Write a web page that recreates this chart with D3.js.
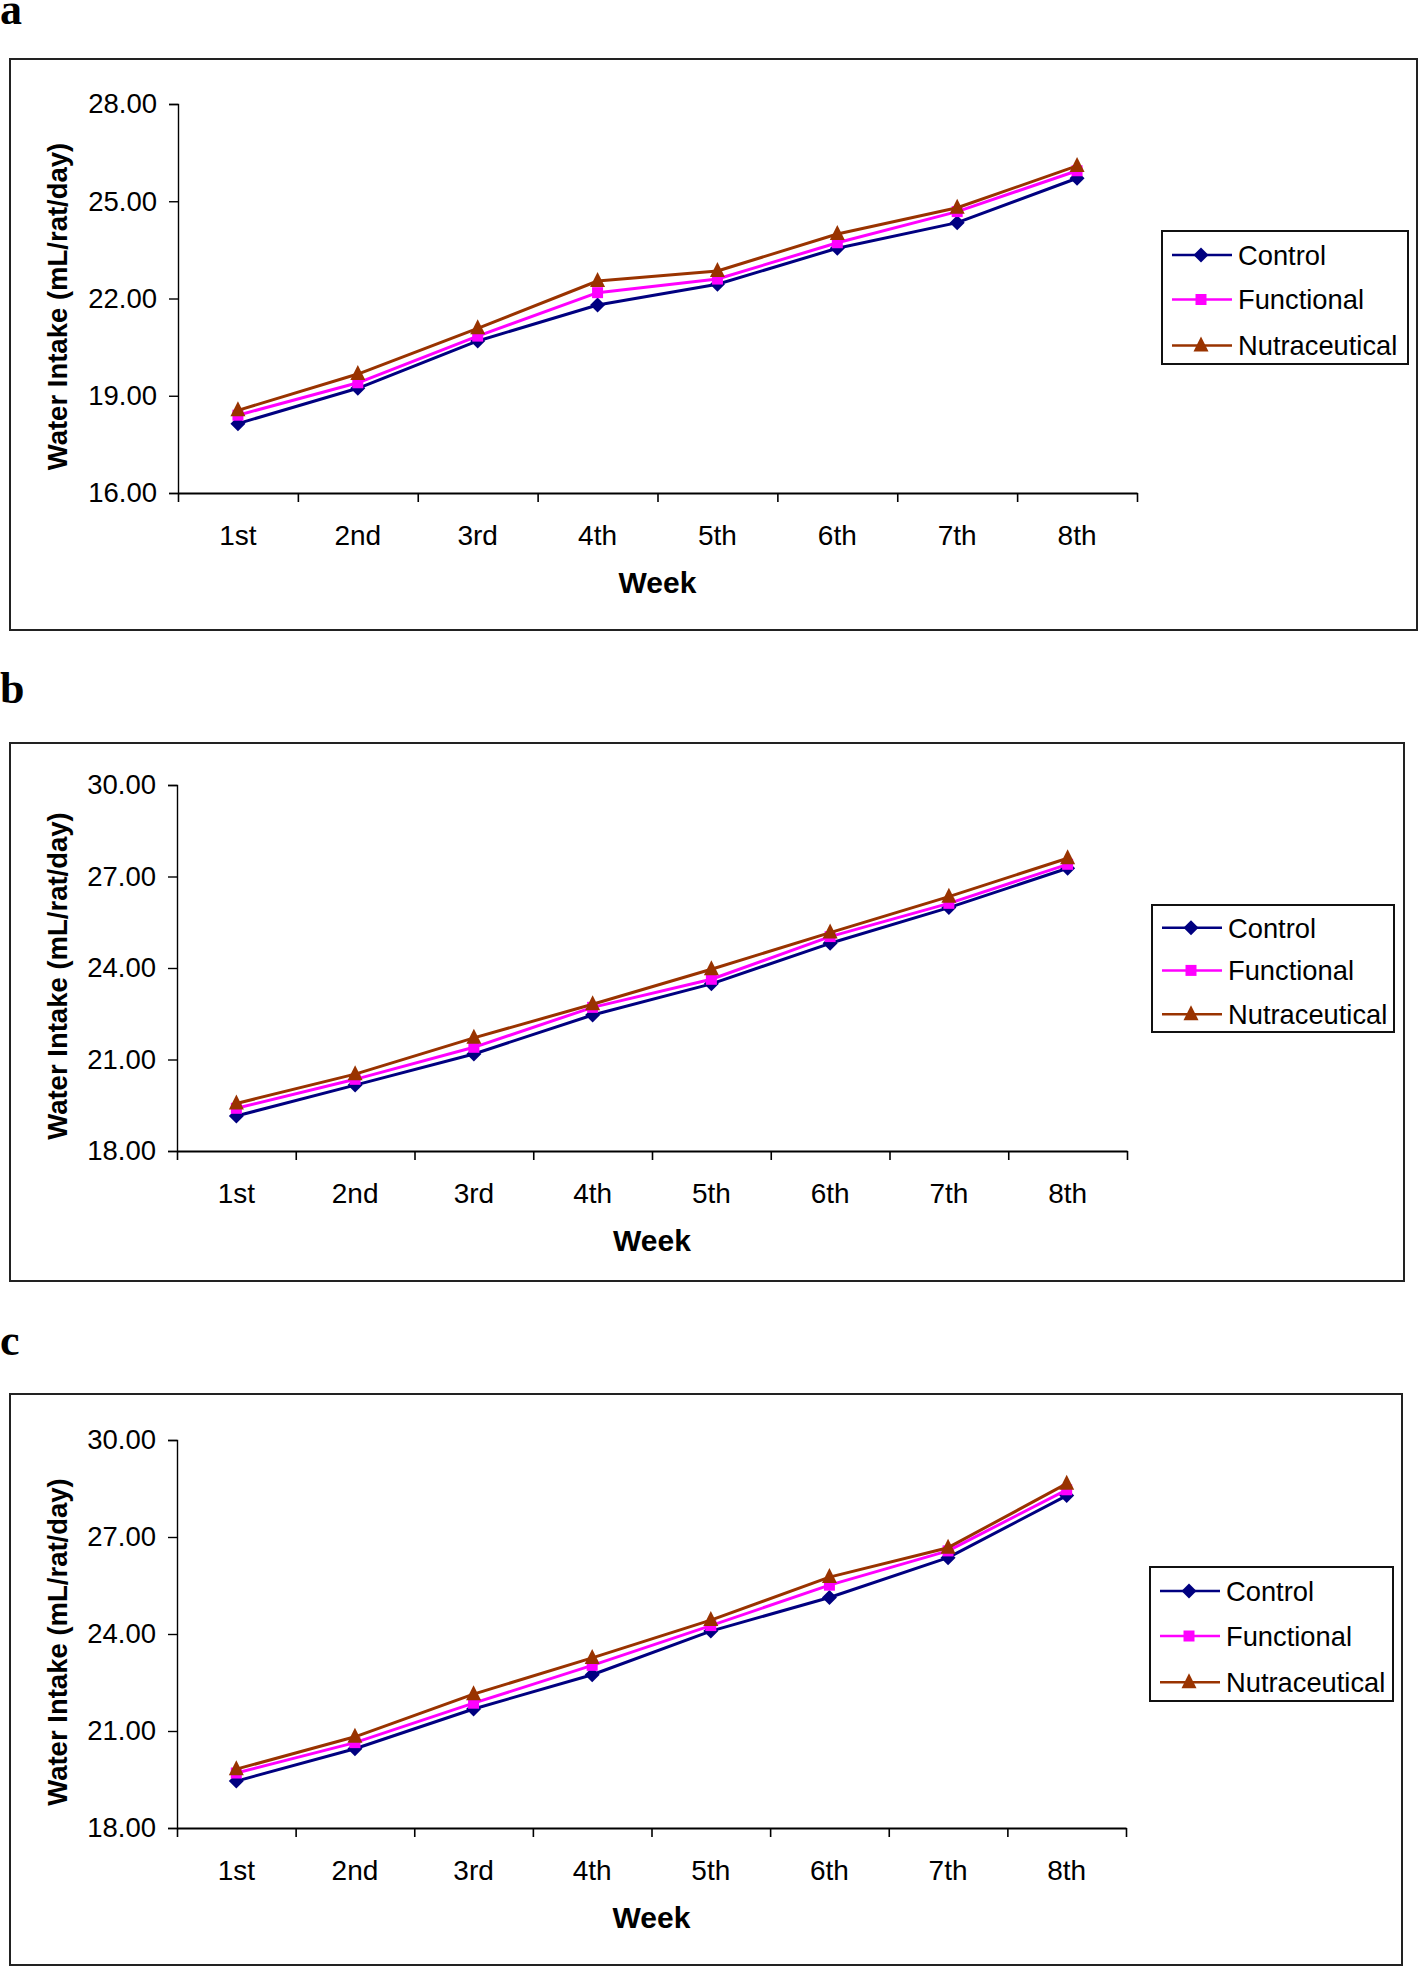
<!DOCTYPE html>
<html>
<head>
<meta charset="utf-8">
<script src="https://cdn.jsdelivr.net/npm/d3@7"></script>
<style>
  html, body { margin: 0; padding: 0; background: #fff; }
  svg { display: block; }
  text { font-family: "Liberation Sans", Arial, sans-serif; fill: #000; }
</style>
</head>
<body>
<svg id="chart" width="1418" height="1967"></svg>
<script>
// ---------- DATA ----------
const weeks = ["1st", "2nd", "3rd", "4th", "5th", "6th", "7th", "8th"];
const seriesNames = ["Control", "Functional", "Nutraceutical"];
const panelLetters = ["a", "b", "c"];
const yTitle = "Water Intake (mL/rat/day)";
const xTitle = "Week";

const controlA       = [18.14, 19.23, 20.69, 21.80, 22.44, 23.55, 24.34, 25.71];
const functionalA    = [18.40, 19.40, 20.84, 22.18, 22.60, 23.72, 24.68, 25.94];
const nutraceuticalA = [18.55, 19.67, 21.08, 22.54, 22.85, 23.99, 24.80, 26.09];

const controlB       = [19.15, 20.16, 21.18, 22.46, 23.48, 24.81, 25.98, 27.27];
const functionalB    = [19.40, 20.35, 21.40, 22.71, 23.63, 25.03, 26.12, 27.40];
const nutraceuticalB = [19.56, 20.52, 21.71, 22.81, 23.96, 25.16, 26.34, 27.60];

const controlC       = [19.45, 20.45, 21.68, 22.74, 24.09, 25.13, 26.36, 28.28];
const functionalC    = [19.70, 20.64, 21.86, 23.03, 24.26, 25.51, 26.57, 28.46];
const nutraceuticalC = [19.82, 20.82, 22.14, 23.26, 24.43, 25.76, 26.67, 28.65];

const yTicksA = [16, 19, 22, 25, 28];
const yTicksB = [18, 21, 24, 27, 30];
const yTicksC = [18, 21, 24, 27, 30];

// ---------- STYLE / LAYOUT ----------
const colors = ["#000080", "#FF00FF", "#993300"];
const markerPaths = [
  "M0,-7.5L7.5,0L0,7.5L-7.5,0Z",        // diamond
  "M-5.5,-5.5H5.5V5.5H-5.5Z",            // square
  "M0,-9L7.5,6L-7.5,6Z"                  // triangle
];

const panels = [
  { letter: panelLetters[0], letterY: 24, data: [controlA, functionalA, nutraceuticalA], ticks: yTicksA,
    box: {x: 10, y: 59, w: 1407, h: 571},
    plot: {l: 178, t: 104, r: 1137, b: 493},
    legend: {x: 1162, y: 231, w: 246, h: 133} },
  { letter: panelLetters[1], letterY: 703, data: [controlB, functionalB, nutraceuticalB], ticks: yTicksB,
    box: {x: 10, y: 743, w: 1394, h: 538},
    plot: {l: 177, t: 785, r: 1127, b: 1151},
    legend: {x: 1152, y: 905, w: 242, h: 127} },
  { letter: panelLetters[2], letterY: 1355, data: [controlC, functionalC, nutraceuticalC], ticks: yTicksC,
    box: {x: 10, y: 1394, w: 1392, h: 571},
    plot: {l: 177, t: 1440, r: 1126, b: 1828},
    legend: {x: 1150, y: 1567, w: 243, h: 134} }
];

const svg = d3.select("#chart");

panels.forEach(p => {
  const g = svg.append("g");

  // panel letter
  g.append("text")
    .attr("x", 0).attr("y", p.letterY)
    .style("font-family", "'Liberation Serif', 'Times New Roman', serif")
    .style("font-weight", "bold")
    .style("font-size", "44px")
    .text(p.letter);

  // outer box
  g.append("rect")
    .attr("x", p.box.x).attr("y", p.box.y)
    .attr("width", p.box.w).attr("height", p.box.h)
    .attr("fill", "none").attr("stroke", "#222").attr("stroke-width", 2);

  const x = d3.scaleBand().domain(weeks).range([p.plot.l, p.plot.r]).padding(0);
  const xEdges = d3.scaleLinear().domain([0, weeks.length]).range([p.plot.l, p.plot.r]);
  const y = d3.scaleLinear().domain([p.ticks[0], p.ticks[p.ticks.length - 1]]).range([p.plot.b, p.plot.t]);

  // y axis
  const yAxis = d3.axisLeft(y).tickValues(p.ticks).tickFormat(d3.format(".2f")).tickSize(9).tickPadding(12);
  const ya = g.append("g").attr("transform", `translate(${p.plot.l},0)`).call(yAxis);
  ya.select(".domain").attr("stroke", "#000").attr("stroke-width", 1.4);
  ya.selectAll(".tick line").attr("stroke", "#000").attr("stroke-width", 1.4);
  ya.selectAll(".tick text").style("font-size", "27.5px").style("font-family", "'Liberation Sans', Arial, sans-serif").attr("fill", "#000");

  // x axis: boundary ticks
  const xAxis = d3.axisBottom(xEdges).tickValues(d3.range(0, weeks.length + 1)).tickFormat("").tickSize(9).tickSizeOuter(0);
  const xa = g.append("g").attr("transform", `translate(0,${p.plot.b})`).call(xAxis);
  xa.select(".domain").attr("stroke", "#000").attr("stroke-width", 2);
  xa.selectAll(".tick line").attr("stroke", "#000").attr("stroke-width", 1.6);

  // x labels via band axis
  const xl = g.append("g").attr("transform", `translate(0,${p.plot.b})`)
    .call(d3.axisBottom(x).tickSize(0).tickPadding(32));
  xl.select(".domain").remove();
  xl.selectAll(".tick text").style("font-size", "28px").style("font-family", "'Liberation Sans', Arial, sans-serif").attr("fill", "#000");

  // axis titles
  g.append("text")
    .attr("x", (p.plot.l + p.plot.r) / 2)
    .attr("y", p.plot.b + 100)
    .attr("text-anchor", "middle")
    .style("font-weight", "bold").style("font-size", "30px")
    .text(xTitle);

  g.append("text")
    .attr("transform", `translate(${67},${(p.plot.t + p.plot.b) / 2 + 8}) rotate(-90)`)
    .attr("text-anchor", "middle")
    .style("font-weight", "bold").style("font-size", "27.5px")
    .text(yTitle);

  // series
  const line = d3.line().x((d, i) => x(weeks[i]) + x.bandwidth() / 2).y(d => y(d));
  p.data.forEach((vals, si) => {
    const sg = g.append("g");
    sg.append("path").datum(vals)
      .attr("d", line)
      .attr("fill", "none").attr("stroke", colors[si]).attr("stroke-width", 3)
      .attr("stroke-linejoin", "round");
    sg.selectAll("path.mk").data(vals).enter().append("path")
      .attr("class", "mk")
      .attr("d", markerPaths[si])
      .attr("transform", (d, i) => `translate(${x(weeks[i]) + x.bandwidth() / 2},${y(d)})`)
      .attr("fill", colors[si]);
  });

  // legend
  const L = p.legend;
  const lg = g.append("g");
  lg.append("rect").attr("x", L.x).attr("y", L.y).attr("width", L.w).attr("height", L.h)
    .attr("fill", "#fff").attr("stroke", "#111").attr("stroke-width", 2);
  const rowFr = [0.18, 0.515, 0.86];
  seriesNames.forEach((name, si) => {
    const ry = L.y + L.h * rowFr[si];
    lg.append("line").attr("x1", L.x + 10).attr("x2", L.x + 70).attr("y1", ry).attr("y2", ry)
      .attr("stroke", colors[si]).attr("stroke-width", 2.5);
    lg.append("path").attr("d", markerPaths[si]).attr("fill", colors[si])
      .attr("transform", `translate(${L.x + 39},${ry})`);
    lg.append("text").attr("x", L.x + 76).attr("y", ry + 10)
      .style("font-size", "27.3px").text(name);
  });
});
</script>
</body>
</html>
